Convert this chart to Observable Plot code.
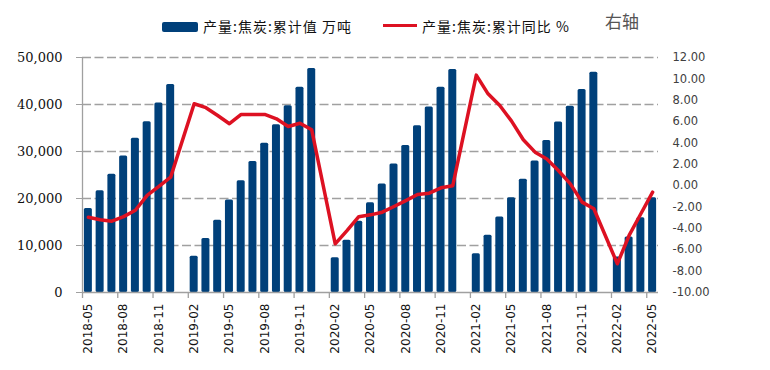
<!DOCTYPE html>
<html><head><meta charset="utf-8">
<script src="https://cdn.jsdelivr.net/npm/d3@7"></script>
<script src="https://cdn.jsdelivr.net/npm/@observablehq/plot@0.6"></script>
<style>
body{margin:0;background:#fff;}
#wrap{position:relative;width:770px;height:370px;font-family:"Noto Sans CJK SC",sans-serif;}
.leg{position:absolute;font-size:14px;letter-spacing:1px;color:#111;line-height:16px;white-space:nowrap;}
</style></head><body><div id="wrap">
<div style="position:absolute;left:162px;top:22px;width:36px;height:10px;background:#00407a;border-radius:2px"></div>
<div class="leg" style="left:203px;top:18px">产量:焦炭:累计值 万吨</div>
<div style="position:absolute;left:383px;top:24px;width:34px;height:3px;background:#dd1122"></div>
<div class="leg" style="left:422px;top:18px">产量:焦炭:累计同比 %</div>
<div style="position:absolute;left:605px;top:11px;font-size:17px;line-height:20px;color:#555;white-space:nowrap">右轴</div>
</div>
<script>
const months = [
  "2018-05","2018-06","2018-07","2018-08","2018-09","2018-10","2018-11","2018-12",
  "2019-01","2019-02","2019-03","2019-04","2019-05","2019-06","2019-07","2019-08","2019-09","2019-10","2019-11","2019-12",
  "2020-01","2020-02","2020-03","2020-04","2020-05","2020-06","2020-07","2020-08","2020-09","2020-10","2020-11","2020-12",
  "2021-01","2021-02","2021-03","2021-04","2021-05","2021-06","2021-07","2021-08","2021-09","2021-10","2021-11","2021-12",
  "2022-01","2022-02","2022-03","2022-04","2022-05"
];
// 产量:焦炭:累计值 万吨 (left axis)
const cumValues = [
  17890, 21650, 25150, 29060, 32840, 36330, 40320, 44240,
  null, 7690, 11470, 15390, 19660, 23790, 27850, 31780, 35690, 39750, 43660, 47660,
  null, 7410, 11110, 15170, 19090, 23080, 27350, 31270, 35470, 39470, 43660, 47440,
  null, 8260, 12180, 16090, 20150, 24080, 28000, 32330, 36260, 39610, 43170, 46860,
  null, 7540, 11820, 15880, 20150
];
// 产量:焦炭:累计同比 % (right axis)
const yoyValues = [
  -2.95, -3.19, -3.32, -2.90, -2.30, -0.90, -0.07, 0.80,
  null, 7.67, 7.30, 6.57, 5.80, 6.67, 6.67, 6.67, 6.26, 5.54, 5.85, 5.23,
  null, -5.44, -4.20, -2.90, -2.73, -2.48, -1.95, -1.40, -0.82, -0.70, -0.20, 0.00,
  null, 10.35, 8.60, 7.50, 6.04, 4.30, 3.14, 2.50, 1.40, 0.17, -1.54, -2.16,
  null, -7.31, -4.66, -2.63, -0.61
];
const xTickLabels = ["2018-05","2018-08","2018-11","2019-02","2019-05","2019-08","2019-11","2020-02","2020-05","2020-08","2020-11","2021-02","2021-05","2021-08","2021-11","2022-02","2022-05"];
const leftTicks = [0, 10000, 20000, 30000, 40000, 50000];
const rightTicks = [-10, -8, -6, -4, -2, 0, 2, 4, 6, 8, 10, 12];

const LMAX = 50000, RMIN = -10, RMAX = 12;
const toLeft = v => (v - RMIN) / (RMAX - RMIN) * LMAX;
const toRight = u => { const r = Math.round((u / LMAX * (RMAX - RMIN) + RMIN) * 100) / 100; return (r + 0).toFixed(2); };

const W = 770, H = 370, mL = 82, mR = 112, mT = 57, mB = 78;
const step = (W - mL - mR) / months.length;
const pxToY = px => px / (H - mT - mB) * LMAX;

const barData = months.map((m, i) => ({m, v: cumValues[i]})).filter(d => d.v != null);
const lineData = months.map((m, i) => ({m, v: yoyValues[i]})).filter(d => d.v != null);

const chart = Plot.plot({
  width: W, height: H, marginTop: mT, marginBottom: mB, marginLeft: mL, marginRight: mR,
  x: {type: "band", domain: months, paddingInner: 0.32, paddingOuter: 0.16, label: null},
  y: {domain: [0, LMAX], label: null},
  style: {background: "transparent", overflow: "visible"},
  marks: [
    Plot.ruleY(leftTicks.filter(t => t > 0), {stroke: "#a0a0a0", strokeWidth: 1.3, strokeDasharray: "9,3.5"}),
    Plot.barY(barData, {x: "m", y: "v", fill: "#00407a", rx: 1.5}),
    Plot.line(lineData, {x: "m", y: d => toLeft(d.v), stroke: "#dd1122", strokeWidth: 3.5, strokeLinejoin: "round"}),
    Plot.ruleY([0], {stroke: "#a0a0a0", strokeWidth: 1.3}),
    Plot.ruleX([months[0]], {x: d => d, dx: -step / 2, y1: 0, y2: LMAX, stroke: "#a0a0a0", strokeWidth: 1.3}),
    Plot.ruleX(xTickLabels, {x: d => d, dx: -step / 2, y1: 0, y2: -pxToY(6), stroke: "#a0a0a0", strokeWidth: 1.3}),
    Plot.axisX(xTickLabels, {tickSize: 0, tickPadding: 11, tickRotate: -90, fontFamily: "DejaVu Sans", fontSize: 12, fill: "#111", label: null}),
    Plot.axisY(leftTicks, {anchor: "left", tickSize: 6, tickPadding: 14, stroke: "#a0a0a0", fill: "#111", tickFormat: d3.format(","), fontFamily: "DejaVu Serif", fontSize: 13, label: null}),
    Plot.axisY(rightTicks.map(toLeft), {anchor: "right", tickSize: 0, tickPadding: 14, fill: "#404040", tickFormat: toRight, fontFamily: "DejaVu Sans", fontSize: 11.5, label: null})
  ]
});
chart.style.position = "absolute";
chart.style.left = "0px";
chart.style.top = "0px";
document.getElementById("wrap").appendChild(chart);
</script>
</body></html>
